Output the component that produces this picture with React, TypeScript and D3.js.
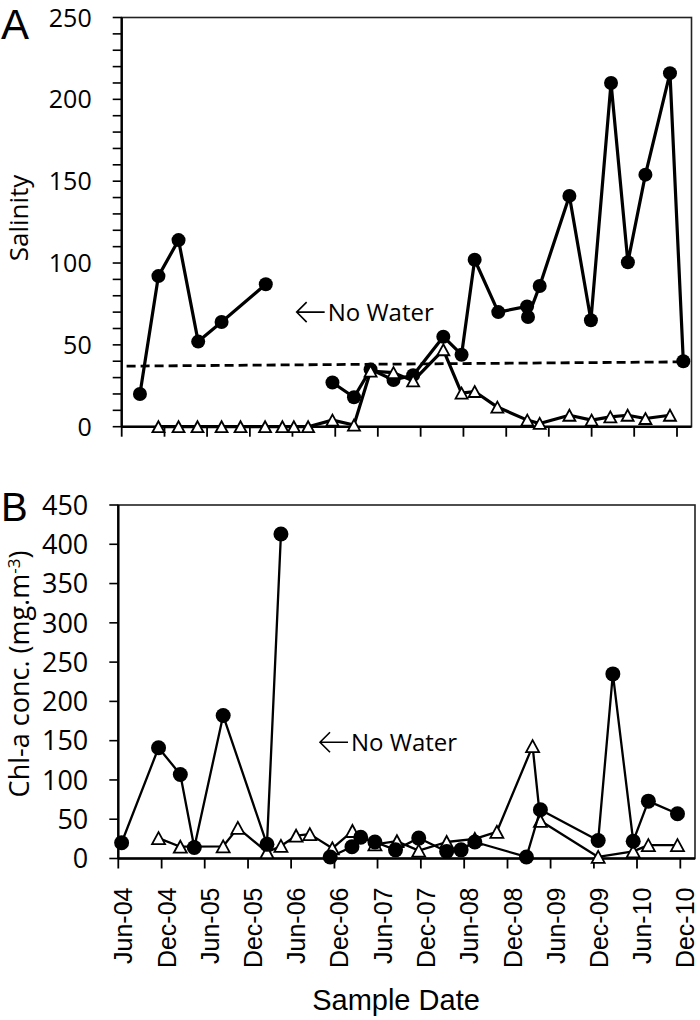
import React from 'react';
import * as d3 from 'd3';

// ---------- shared axis data ----------
const X_TICK_LABELS = ['Jun-04', 'Dec-04', 'Jun-05', 'Dec-05', 'Jun-06', 'Dec-06', 'Jun-07', 'Dec-07', 'Jun-08', 'Dec-08', 'Jun-09', 'Dec-09', 'Jun-10', 'Dec-10'];
const X_START = '2004-06-01';
const X_END = '2011-02-01';

// ---------- Panel A: salinity ----------
const SAL_TICKS = [0, 50, 100, 150, 200, 250];
const SAL_MAX = 250;
const SAL_MINOR_STEP = 10;

const SAL_FILLED_DATES = ['2004-08-18', '2004-11-05', '2005-01-30', '2005-04-24', '2005-08-02', '2006-02-07', '2006-06-01', '2006-11-19', '2007-02-19', '2007-05-01', '2007-08-07', '2007-10-30', '2008-03-07', '2008-05-24', '2008-07-19', '2008-10-28', '2009-02-28', '2009-03-04', '2009-04-23', '2009-08-28', '2009-11-28', '2010-02-22', '2010-05-05', '2010-07-19', '2010-11-01', '2010-12-28'];
const SAL_FILLED_VALUES: (number | null)[] = [20, 92, 114, 52, 64, 87, null, 27, 18, 35, 28.5, 31.5, 55, 44, 102, 70, 73.5, 67, 86, 141, 65, 210, 100.5, 154, 216, 40];

const SAL_OPEN_DATES = ['2004-11-05', '2005-01-30', '2005-04-21', '2005-08-02', '2005-10-22', '2006-02-04', '2006-04-19', '2006-06-07', '2006-08-07', '2006-11-19', '2007-02-19', '2007-05-01', '2007-08-07', '2007-10-30', '2008-03-07', '2008-05-24', '2008-07-19', '2008-10-24', '2009-03-01', '2009-04-23', '2009-08-28', '2009-12-01', '2010-02-19', '2010-05-04', '2010-07-19', '2010-11-01'];
const SAL_OPEN_VALUES: (number | null)[] = [0, 0, 0, 0, 0, 0, 0, 0, 0, 4, 1, 34, 33, 28, 47, 20.5, 21.5, 12, 4, 2, 7, 4, 6, 7, 5, 7];

const SAL_THRESHOLD_DATES = ['2004-06-22', '2010-12-28'];
const SAL_THRESHOLD_VALUES = [37, 39.6];

const SAL_NOTE = { date: '2006-06-19', value: 70, text: 'No Water' };

// ---------- Panel B: chlorophyll-a ----------
const CHL_TICKS = [0, 50, 100, 150, 200, 250, 300, 350, 400, 450];
const CHL_MAX = 450;

const CHL_FILLED_DATES = ['2004-06-15', '2004-11-18', '2005-02-18', '2005-04-18', '2005-08-18', '2006-02-19', '2006-04-19', '2006-08-01', '2006-11-13', '2007-02-13', '2007-03-22', '2007-05-21', '2007-08-16', '2007-11-22', '2008-03-19', '2008-05-19', '2008-07-16', '2009-02-19', '2009-04-19', '2009-12-19', '2010-02-19', '2010-05-16', '2010-07-19', '2010-11-19'];
const CHL_FILLED_VALUES: (number | null)[] = [20, 141, 107, 14, 182, 18, 413, null, 2, 15, 27, 21, 11, 26, 9, 11, 21, 2, 62, 23, 235, 22, 73, 57];

const CHL_OPEN_DATES = ['2004-11-18', '2005-02-18', '2005-08-18', '2005-10-19', '2006-02-19', '2006-04-19', '2006-06-22', '2006-08-19', '2006-11-22', '2007-02-15', '2007-05-21', '2007-08-22', '2007-11-22', '2008-03-19', '2008-07-16', '2008-10-17', '2009-03-17', '2009-04-19', '2009-12-19', '2010-05-16', '2010-07-19', '2010-11-19'];
const CHL_OPEN_VALUES: (number | null)[] = [26, 15, 15.5, 39, 8, 16, 29, 31, 13, 35, 18, 22, 10, 21, 25, 34, 143, 48, 2, 9, 17, 17];

const CHL_NOTE = { date: '2006-10-01', value: 148, text: 'No Water' };

// ---------- helpers ----------
const pDate = d3.timeParse('%Y-%m-%d');
const pTick = d3.timeParse('%b-%y');

type Pt = { d: Date; v: number | null };
const zip = (dates: string[], values: (number | null)[]): Pt[] =>
  dates.map((s, i) => ({ d: pDate(s) as Date, v: values[i] }));

const triPath = (w: number, h: number) => `M0,${-h / 2}L${w / 2},${h / 2}L${-w / 2},${h / 2}Z`;

const TICK_FONT = "'Open Sans', sans-serif";
const AXIS_FONT = "'Liberation Sans', Arial, sans-serif";

type PanelProps = {
  left: number; right: number; top: number; bottom: number;
  yMax: number; yTicks: number[]; minorStep?: number;
  filled: Pt[]; open: Pt[]; openOnTop: boolean;
  lineW: number; r: number; triW: number; triH: number; triStroke: number;
  dashed?: Pt[];
  note: { date: string; value: number; text: string };
  tickFont: number; xLabels: boolean;
};

function Panel(p: PanelProps) {
  const x = d3.scaleTime().domain([pDate(X_START) as Date, pDate(X_END) as Date]).range([p.left, p.right]);
  const y = d3.scaleLinear().domain([0, p.yMax]).range([p.bottom, p.top]);
  const line = d3.line<Pt>().defined(d => d.v !== null).x(d => x(d.d)).y(d => y(d.v as number));
  const tickDates = X_TICK_LABELS.map(t => pTick(t) as Date);
  const minor = p.minorStep ? d3.range(0, p.yMax + 0.001, p.minorStep) : p.yTicks;

  const filledG = (
    <g key="filled">
      <path d={line(p.filled) || ''} fill="none" stroke="#000" strokeWidth={p.lineW} strokeLinejoin="round" />
      {p.filled.filter(d => d.v !== null).map((d, i) => (
        <circle key={i} cx={x(d.d)} cy={y(d.v as number)} r={p.r} fill="#000" />
      ))}
    </g>
  );
  const openG = (
    <g key="open">
      <path d={line(p.open) || ''} fill="none" stroke="#000" strokeWidth={p.lineW} strokeLinejoin="round" />
      {p.open.filter(d => d.v !== null).map((d, i) => (
        <path key={i} d={triPath(p.triW, p.triH)} transform={`translate(${x(d.d)},${y(d.v as number)})`} fill="#fff" stroke="#000" strokeWidth={p.triStroke} strokeLinejoin="miter" />
      ))}
    </g>
  );

  const nx = x(pDate(p.note.date) as Date);
  const ny = y(p.note.value);

  return (
    <g>
      {/* frame */}
      <rect x={p.left} y={p.top} width={p.right - p.left} height={p.bottom - p.top} fill="none" stroke="#222" strokeWidth={1.6} />
      {/* y axis */}
      <line x1={p.left} x2={p.left} y1={p.top} y2={p.bottom} stroke="#000" strokeWidth={2.4} />
      {minor.map((v, i) => (
        <line key={'m' + i} x1={p.left - 9} x2={p.left} y1={y(v)} y2={y(v)} stroke="#000" strokeWidth={1.6} />
      ))}
      {p.yTicks.map((v, i) => (
        <text key={'t' + i} x={p.left - 30} y={y(v)} dy="0.36em" textAnchor="end" fontFamily={TICK_FONT} fontSize={p.tickFont} fill="#000">{v}</text>
      ))}
      {/* x axis */}
      <line x1={p.left} x2={p.right} y1={p.bottom} y2={p.bottom} stroke="#000" strokeWidth={2.4} />
      {tickDates.map((d, i) => (
        <line key={'x' + i} x1={x(d)} x2={x(d)} y1={p.bottom} y2={p.bottom + 10} stroke="#000" strokeWidth={1.8} />
      ))}
      {p.xLabels && X_TICK_LABELS.map((t, i) => (
        <text key={'xl' + i} transform={`translate(${x(tickDates[i]) + 5},${p.bottom + 29}) rotate(-90)`} dy="0.36em" textAnchor="end" fontFamily={AXIS_FONT} fontSize={25} fill="#000">{t}</text>
      ))}
      {/* dashed reference */}
      {p.dashed && (
        <path d={line(p.dashed) || ''} fill="none" stroke="#000" strokeWidth={2.8} strokeDasharray="9,5" />
      )}
      {/* series */}
      {p.openOnTop ? [filledG, openG] : [openG, filledG]}
      {/* annotation */}
      <path d={`M${nx + 28},${ny}H${nx}M${nx + 10},${ny - 10}L${nx},${ny}L${nx + 10},${ny + 10}`} fill="none" stroke="#000" strokeWidth={1.6} />
      <text x={nx + 31} y={ny} dy="0.36em" fontFamily={TICK_FONT} fontSize={24} fill="#000">{p.note.text}</text>
    </g>
  );
}

export default function App() {
  return (
    <svg width={700} height={1020} viewBox="0 0 700 1020" style={{ position: 'absolute', left: 0, top: 0, background: '#fff' }}>
      <rect x={0} y={0} width={700} height={1020} fill="#fff" />
      <Panel
        left={121.7} right={691.5} top={17.5} bottom={426.7}
        yMax={SAL_MAX} yTicks={SAL_TICKS} minorStep={SAL_MINOR_STEP}
        filled={zip(SAL_FILLED_DATES, SAL_FILLED_VALUES)}
        open={zip(SAL_OPEN_DATES, SAL_OPEN_VALUES)} openOnTop={true}
        lineW={3.2} r={7} triW={12} triH={11} triStroke={1.8}
        dashed={zip(SAL_THRESHOLD_DATES, SAL_THRESHOLD_VALUES)}
        note={SAL_NOTE} tickFont={25} xLabels={false}
      />
      <Panel
        left={118.3} right={695} top={505} bottom={858.5}
        yMax={CHL_MAX} yTicks={CHL_TICKS}
        filled={zip(CHL_FILLED_DATES, CHL_FILLED_VALUES)}
        open={zip(CHL_OPEN_DATES, CHL_OPEN_VALUES)} openOnTop={false}
        lineW={2.3} r={7.5} triW={13} triH={12} triStroke={1.8}
        note={CHL_NOTE} tickFont={27} xLabels={true}
      />
      {/* panel letters */}
      <text x={1} y={39} fontFamily={AXIS_FONT} fontSize={42} fill="#000">A</text>
      <text x={1} y={521} fontFamily={AXIS_FONT} fontSize={40} fill="#000">B</text>
      {/* axis titles */}
      <text transform="translate(28,218) rotate(-90)" textAnchor="middle" fontFamily={TICK_FONT} fontSize={26} fill="#000">Salinity</text>
      <text transform="translate(29,674) rotate(-90)" textAnchor="middle" fontFamily={TICK_FONT} fontSize={27} fill="#000">
        Chl-a conc. (mg.m<tspan dy={-9} fontSize={17}>-3</tspan><tspan dy={9}>)</tspan>
      </text>
      <text x={396} y={1010} textAnchor="middle" fontFamily={AXIS_FONT} fontSize={29} fill="#000">Sample Date</text>
    </svg>
  );
}
